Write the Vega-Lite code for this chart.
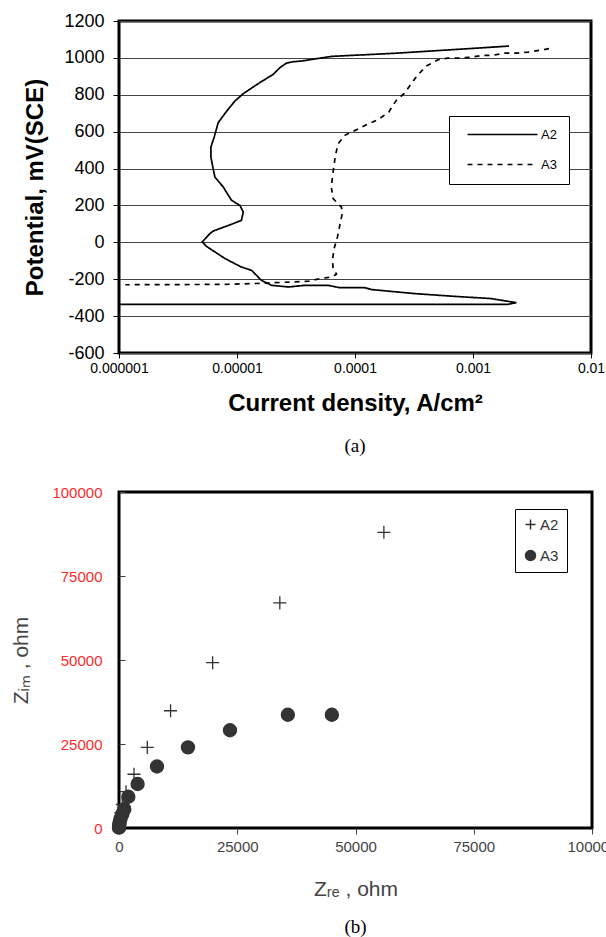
{
  "$schema": "https://vega.github.io/schema/vega-lite/v6.json",
  "background": "white",
  "padding": {"left": 9, "top": 10, "right": 0, "bottom": 0},
  "spacing": 25,
  "resolve": {
    "scale": {"strokeDash": "independent", "shape": "independent", "fill": "independent"},
    "legend": {"strokeDash": "independent", "shape": "independent", "fill": "independent"}
  },
  "config": {
    "font": "Liberation Sans",
    "view": {"stroke": "black", "strokeWidth": 3},
    "axis": {"domain": false, "labelFlush": false, "labelOverlap": false, "tickColor": "black", "tickWidth": 1}
  },
  "vconcat": [
    {
      "width": 472,
      "height": 332,
      "data": {"values": [
        {"s":"A2","i":0,"x":0.00202,"y":1064},
        {"s":"A2","i":1,"x":0.000232,"y":1026},
        {"s":"A2","i":2,"x":0.0000631,"y":1008},
        {"s":"A2","i":3,"x":0.0000352,"y":983},
        {"s":"A2","i":4,"x":0.0000299,"y":979},
        {"s":"A2","i":5,"x":0.0000263,"y":972},
        {"s":"A2","i":6,"x":0.0000231,"y":947},
        {"s":"A2","i":7,"x":0.0000203,"y":911},
        {"s":"A2","i":8,"x":0.0000151,"y":860},
        {"s":"A2","i":9,"x":0.0000113,"y":806},
        {"s":"A2","i":10,"x":0.0000096,"y":766},
        {"s":"A2","i":11,"x":0.00000815,"y":710},
        {"s":"A2","i":12,"x":0.00000693,"y":649},
        {"s":"A2","i":13,"x":0.00000641,"y":571},
        {"s":"A2","i":14,"x":0.00000601,"y":517},
        {"s":"A2","i":15,"x":0.00000601,"y":462},
        {"s":"A2","i":16,"x":0.00000628,"y":399},
        {"s":"A2","i":17,"x":0.0000065,"y":354},
        {"s":"A2","i":18,"x":0.00000764,"y":300},
        {"s":"A2","i":19,"x":0.00000898,"y":228},
        {"s":"A2","i":20,"x":0.0000106,"y":200},
        {"s":"A2","i":21,"x":0.0000113,"y":164},
        {"s":"A2","i":22,"x":0.0000109,"y":119},
        {"s":"A2","i":23,"x":0.00000898,"y":98},
        {"s":"A2","i":24,"x":0.00000628,"y":61},
        {"s":"A2","i":25,"x":0.00000589,"y":47},
        {"s":"A2","i":26,"x":0.00000507,"y":2},
        {"s":"A2","i":27,"x":0.00000552,"y":-22},
        {"s":"A2","i":28,"x":0.00000791,"y":-88},
        {"s":"A2","i":29,"x":0.0000109,"y":-134},
        {"s":"A2","i":30,"x":0.0000133,"y":-152},
        {"s":"A2","i":31,"x":0.0000161,"y":-206},
        {"s":"A2","i":32,"x":0.0000196,"y":-233},
        {"s":"A2","i":33,"x":0.0000272,"y":-242},
        {"s":"A2","i":34,"x":0.0000376,"y":-233},
        {"s":"A2","i":35,"x":0.0000592,"y":-233},
        {"s":"A2","i":36,"x":0.0000743,"y":-246},
        {"s":"A2","i":37,"x":0.000121,"y":-246},
        {"s":"A2","i":38,"x":0.000138,"y":-256},
        {"s":"A2","i":39,"x":0.000321,"y":-278},
        {"s":"A2","i":40,"x":0.0007,"y":-293},
        {"s":"A2","i":41,"x":0.00143,"y":-305},
        {"s":"A2","i":42,"x":0.00198,"y":-320},
        {"s":"A2","i":43,"x":0.00233,"y":-327},
        {"s":"A2","i":44,"x":0.00198,"y":-336},
        {"s":"A2","i":45,"x":0.000001,"y":-336},
        {"s":"A3","i":0,"x":0.0044,"y":1050},
        {"s":"A3","i":1,"x":0.00367,"y":1041},
        {"s":"A3","i":2,"x":0.00292,"y":1031},
        {"s":"A3","i":3,"x":0.00233,"y":1026},
        {"s":"A3","i":4,"x":0.00185,"y":1026},
        {"s":"A3","i":5,"x":0.00147,"y":1014},
        {"s":"A3","i":6,"x":0.00122,"y":1014},
        {"s":"A3","i":7,"x":0.00097,"y":1004},
        {"s":"A3","i":8,"x":0.00077,"y":999},
        {"s":"A3","i":9,"x":0.00061,"y":999},
        {"s":"A3","i":10,"x":0.000506,"y":990},
        {"s":"A3","i":11,"x":0.000403,"y":956},
        {"s":"A3","i":12,"x":0.000342,"y":909},
        {"s":"A3","i":13,"x":0.00026,"y":806},
        {"s":"A3","i":14,"x":0.000224,"y":770},
        {"s":"A3","i":15,"x":0.000193,"y":706},
        {"s":"A3","i":16,"x":0.000157,"y":665},
        {"s":"A3","i":17,"x":0.000127,"y":640},
        {"s":"A3","i":18,"x":0.000103,"y":611},
        {"s":"A3","i":19,"x":0.000082,"y":580},
        {"s":"A3","i":20,"x":0.000072,"y":535},
        {"s":"A3","i":21,"x":0.0000683,"y":472},
        {"s":"A3","i":22,"x":0.0000652,"y":381},
        {"s":"A3","i":23,"x":0.000063,"y":300},
        {"s":"A3","i":24,"x":0.0000652,"y":237},
        {"s":"A3","i":25,"x":0.0000767,"y":191},
        {"s":"A3","i":26,"x":0.000078,"y":156},
        {"s":"A3","i":27,"x":0.0000743,"y":92},
        {"s":"A3","i":28,"x":0.000071,"y":29},
        {"s":"A3","i":29,"x":0.0000665,"y":-34},
        {"s":"A3","i":30,"x":0.0000644,"y":-98},
        {"s":"A3","i":31,"x":0.0000652,"y":-139},
        {"s":"A3","i":32,"x":0.0000697,"y":-173},
        {"s":"A3","i":33,"x":0.000063,"y":-188},
        {"s":"A3","i":34,"x":0.0000503,"y":-197},
        {"s":"A3","i":35,"x":0.0000402,"y":-211},
        {"s":"A3","i":36,"x":0.0000161,"y":-222},
        {"s":"A3","i":37,"x":0.0000079,"y":-228},
        {"s":"A3","i":38,"x":0.00000113,"y":-230}
      ]},
      "title": {"text": "(a)", "orient": "bottom", "anchor": "middle", "font": "Liberation Serif", "fontSize": 19, "fontWeight": "normal", "color": "black", "offset": 22},
      "mark": {"type": "line", "color": "black", "strokeWidth": 1.7, "clip": true},
      "encoding": {
        "x": {"field": "x", "type": "quantitative",
              "scale": {"type": "log", "domain": [0.000001, 0.01]},
              "axis": {"values": [0.000001, 0.00001, 0.0001, 0.001, 0.01], "format": ".6~f", "labelFontSize": 14, "labelColor": "black", "tickSize": 5, "labelPadding": 3, "grid": false,
                       "title": "Current density, A/cm²", "titleFontSize": 24, "titleFontWeight": "bold", "titleColor": "black", "titlePadding": 16}},
        "y": {"field": "y", "type": "quantitative",
              "scale": {"domain": [-600, 1200], "nice": false},
              "axis": {"values": [-600, -400, -200, 0, 200, 400, 600, 800, 1000, 1200], "labelExpr": "'' + datum.value", "labelFontSize": 18, "labelColor": "black", "tickSize": 6, "labelPadding": 9,
                       "grid": true, "gridColor": "#444", "gridWidth": 1, "gridOpacity": 1,
                       "title": "Potential, mV(SCE)", "titleFontSize": 24, "titleFontWeight": "bold", "titleColor": "black", "titlePadding": 16}},
        "order": {"field": "i", "type": "quantitative"},
        "strokeDash": {"field": "s", "type": "nominal",
                       "scale": {"domain": ["A2", "A3"], "range": [[1, 0], [5, 5]]},
                       "legend": {"orient": "none", "legendX": 330, "legendY": 95, "title": null, "strokeColor": "black", "fillColor": "white", "padding": 12,
                                  "symbolType": "M-13,0H1", "symbolSize": 100, "symbolOffset": 65, "symbolStrokeColor": "black", "symbolStrokeWidth": 1.6,
                                  "labelFontSize": 13, "labelColor": "black", "labelOffset": 2, "rowPadding": 16}}
      }
    },
    {
      "width": 473,
      "height": 336,
      "data": {"values": [
        {"s":"A2","zre":56000,"zim":88000},
        {"s":"A2","zre":34000,"zim":67000},
        {"s":"A2","zre":19800,"zim":49200},
        {"s":"A2","zre":10900,"zim":34900},
        {"s":"A2","zre":5980,"zim":24000},
        {"s":"A2","zre":3170,"zim":16000},
        {"s":"A2","zre":1480,"zim":10800},
        {"s":"A2","zre":700,"zim":7000},
        {"s":"A2","zre":350,"zim":4500},
        {"s":"A2","zre":150,"zim":2500},
        {"s":"A2","zre":60,"zim":1200},
        {"s":"A2","zre":20,"zim":400},
        {"s":"A3","zre":45000,"zim":33700},
        {"s":"A3","zre":35700,"zim":33700},
        {"s":"A3","zre":23460,"zim":29100},
        {"s":"A3","zre":14580,"zim":24000},
        {"s":"A3","zre":8030,"zim":18300},
        {"s":"A3","zre":3930,"zim":13100},
        {"s":"A3","zre":1970,"zim":9300},
        {"s":"A3","zre":1120,"zim":5600},
        {"s":"A3","zre":700,"zim":4200},
        {"s":"A3","zre":340,"zim":2800},
        {"s":"A3","zre":150,"zim":1800},
        {"s":"A3","zre":60,"zim":1000},
        {"s":"A3","zre":20,"zim":400},
        {"s":"A3","zre":0,"zim":100}
      ]},
      "title": {"text": "(b)", "orient": "bottom", "anchor": "middle", "font": "Liberation Serif", "fontSize": 19, "fontWeight": "normal", "color": "black", "offset": 19},
      "mark": {"type": "point", "stroke": "#333", "strokeWidth": 1.3, "opacity": 1, "size": 170},
      "encoding": {
        "x": {"field": "zre", "type": "quantitative",
              "scale": {"domain": [0, 100000], "nice": false},
              "axis": {"values": [0, 25000, 50000, 75000, 100000], "format": "d", "labelFontSize": 15, "labelColor": "#444", "tickSize": 6, "tickColor": "#444", "labelPadding": 5, "grid": false,
                       "title": "Zᵣₑ , ohm", "titleFontSize": 21, "titleFontWeight": "normal", "titleColor": "#444", "titlePadding": 24}},
        "y": {"field": "zim", "type": "quantitative",
              "scale": {"domain": [0, 100000], "nice": false},
              "axis": {"values": [0, 25000, 50000, 75000, 100000], "format": "d", "labelFontSize": 15, "labelColor": "#ff2a2a", "tickSize": -6, "tickColor": "#444", "labelPadding": 23, "grid": false,
                       "title": "Zᵢₘ , ohm", "titleFontSize": 21, "titleFontWeight": "normal", "titleColor": "#444", "titlePadding": 20}},
        "shape": {"field": "s", "type": "nominal",
                  "scale": {"domain": ["A2", "A3"], "range": ["M-1,0H1M0,-1V1", "circle"]},
                  "legend": {"orient": "none", "legendX": 396, "legendY": 17, "title": null, "strokeColor": "black", "fillColor": "white", "padding": 8,
                             "labelFontSize": 15, "labelColor": "#333", "labelOffset": 2, "rowPadding": 14,
                             "encode": {"symbols": {"update": {"stroke": {"value": "#333"}, "strokeWidth": {"value": 1.3}}}}}},
        "fill": {"field": "s", "type": "nominal",
                 "scale": {"domain": ["A2", "A3"], "range": ["transparent", "#333"]},
                 "legend": {"orient": "none", "legendX": 396, "legendY": 17, "title": null, "strokeColor": "black", "fillColor": "white", "padding": 8,
                            "labelFontSize": 15, "labelColor": "#333", "labelOffset": 2, "rowPadding": 14,
                            "encode": {"symbols": {"update": {"stroke": {"value": "#333"}, "strokeWidth": {"value": 1.3}}}}}}
      }
    }
  ]
}
